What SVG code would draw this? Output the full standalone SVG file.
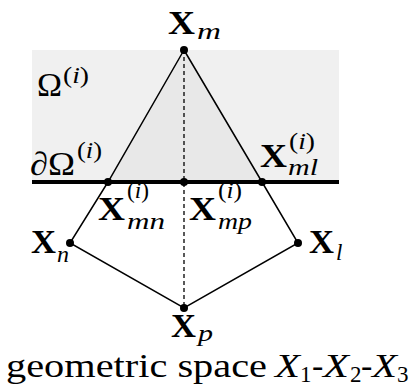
<svg xmlns="http://www.w3.org/2000/svg" width="411" height="387" viewBox="0 0 411 387" font-family="'Liberation Serif', 'DejaVu Serif', serif">
<style>
text { font-family: "Liberation Serif", "DejaVu Serif", serif; fill: #000; }
.bx { font-weight: bold; font-size: 33px; }
.it { font-style: italic; font-size: 23px; }
.sup { font-size: 23px; }
.rm { font-size: 33px; }
.cap { font-size: 34px; }
.edge { stroke: #000; stroke-width: 1.5; fill: none; }
.dash { stroke: #000; stroke-width: 1.3; stroke-dasharray: 4 3; fill: none; }
.pt { fill: #000; }
</style>
<g id="domain">
<rect x="32" y="50" width="307" height="132" fill="#f0f0f0"/>
<polygon points="184,50 108,182 262,182" fill="#e8e8e8"/>
<text class="rm" x="37" y="96" textLength="25" lengthAdjust="spacingAndGlyphs">Ω</text>
<text class="sup" x="63" y="83" textLength="26" lengthAdjust="spacingAndGlyphs"><tspan>(</tspan><tspan font-style="italic">i</tspan><tspan>)</tspan></text>
</g>
<g id="connectors">
<line x1="32" y1="182" x2="339" y2="182" stroke="#000" stroke-width="4"/>
<line class="dash" x1="184" y1="50" x2="184" y2="308"/>
<polyline class="edge" points="184,50 108,182 70,243 184,308 298,243 262,182 184,50"/>
</g>
<g id="boundary-label">
<text class="rm" x="30" y="175" textLength="45" lengthAdjust="spacingAndGlyphs">∂Ω</text>
<text class="sup" x="77" y="158" textLength="25" lengthAdjust="spacingAndGlyphs"><tspan>(</tspan><tspan font-style="italic">i</tspan><tspan>)</tspan></text>
</g>
<g id="node-Xm">
<circle class="pt" cx="184" cy="50" r="4"/>
<text class="bx" x="168" y="34" textLength="27" lengthAdjust="spacingAndGlyphs">X</text>
<text class="it" x="197" y="39" textLength="24" lengthAdjust="spacingAndGlyphs">m</text>
</g>
<g id="node-Xmn">
<circle class="pt" cx="108" cy="182" r="4"/>
<text class="bx" x="98" y="220" textLength="27" lengthAdjust="spacingAndGlyphs">X</text>
<text class="sup" x="127" y="198" textLength="22" lengthAdjust="spacingAndGlyphs"><tspan>(</tspan><tspan font-style="italic">i</tspan><tspan>)</tspan></text>
<text class="it" x="127" y="229" textLength="38" lengthAdjust="spacingAndGlyphs">mn</text>
</g>
<g id="node-Xmp">
<circle class="pt" cx="184" cy="182" r="4"/>
<text class="bx" x="189" y="220" textLength="27" lengthAdjust="spacingAndGlyphs">X</text>
<text class="sup" x="218" y="198" textLength="24" lengthAdjust="spacingAndGlyphs"><tspan>(</tspan><tspan font-style="italic">i</tspan><tspan>)</tspan></text>
<text class="it" x="218" y="229" textLength="34" lengthAdjust="spacingAndGlyphs">mp</text>
</g>
<g id="node-Xml">
<circle class="pt" cx="262" cy="182" r="4"/>
<text class="bx" x="260" y="167" textLength="27" lengthAdjust="spacingAndGlyphs">X</text>
<text class="sup" x="289" y="149" textLength="26" lengthAdjust="spacingAndGlyphs"><tspan>(</tspan><tspan font-style="italic">i</tspan><tspan>)</tspan></text>
<text class="it" x="288" y="175" textLength="30" lengthAdjust="spacingAndGlyphs">ml</text>
</g>
<g id="node-Xn">
<circle class="pt" cx="70" cy="243" r="4"/>
<text class="bx" x="31" y="253" textLength="25" lengthAdjust="spacingAndGlyphs">X</text>
<text class="it" x="57" y="262" textLength="12" lengthAdjust="spacingAndGlyphs">n</text>
</g>
<g id="node-Xl">
<circle class="pt" cx="298" cy="243" r="4"/>
<text class="bx" x="309" y="253" textLength="25" lengthAdjust="spacingAndGlyphs">X</text>
<text class="it" x="336" y="260">l</text>
</g>
<g id="node-Xp">
<circle class="pt" cx="184" cy="308" r="4"/>
<text class="bx" x="171" y="337" textLength="25" lengthAdjust="spacingAndGlyphs">X</text>
<text class="it" x="198" y="341" textLength="15" lengthAdjust="spacingAndGlyphs">p</text>
</g>
<g id="caption">
<text class="cap" x="6" y="377" textLength="261" lengthAdjust="spacingAndGlyphs">geometric space</text>
<text class="cap" font-style="italic" x="275" y="377" textLength="25" lengthAdjust="spacingAndGlyphs">X</text>
<text class="sup" x="300" y="382">1</text>
<text class="cap" x="312" y="377">-</text>
<text class="cap" font-style="italic" x="323" y="377" textLength="26" lengthAdjust="spacingAndGlyphs">X</text>
<text class="sup" x="350" y="382">2</text>
<text class="cap" x="361" y="377">-</text>
<text class="cap" font-style="italic" x="372" y="377" textLength="25" lengthAdjust="spacingAndGlyphs">X</text>
<text class="sup" x="397" y="382">3</text>
</g>
</svg>
